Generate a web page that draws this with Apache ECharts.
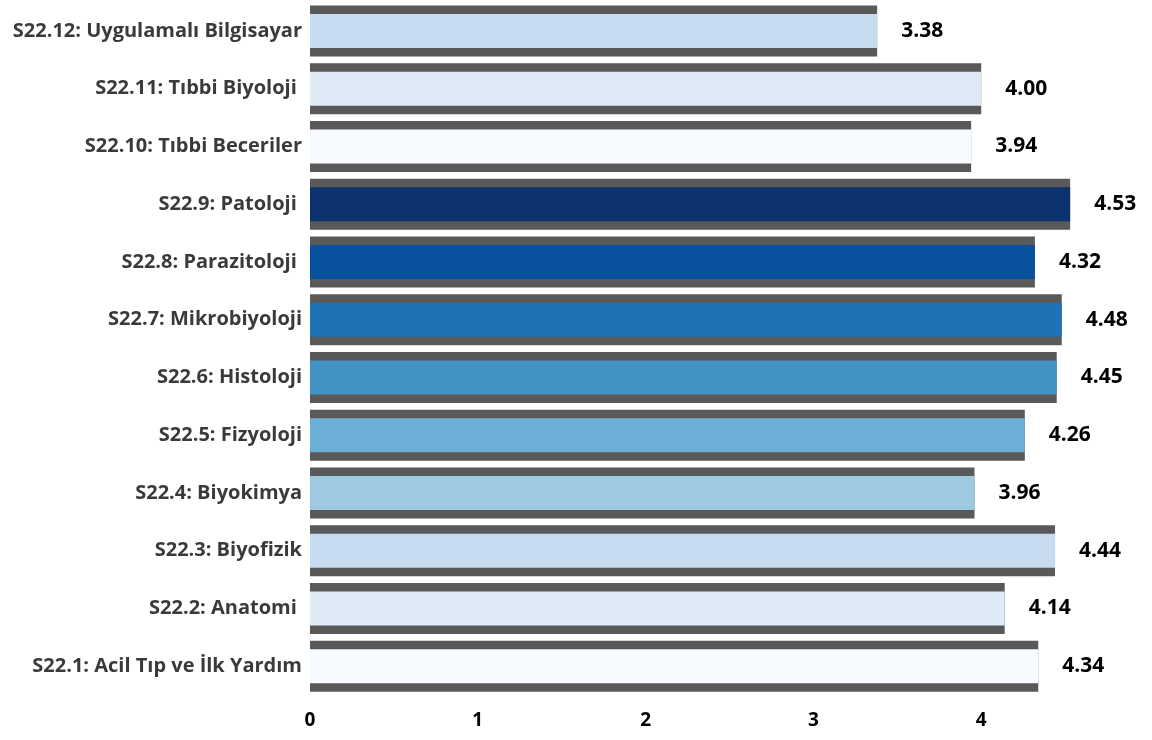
<!DOCTYPE html>
<html><head><meta charset="utf-8">
<script src="https://cdn.jsdelivr.net/npm/echarts@6/dist/echarts.min.js"></script>
<style>html,body{margin:0;padding:0;background:#fff}#c{width:1152px;height:740px}</style>
</head><body><div id="c"></div>
<script>
const categories = ["S22.1: Acil Tıp ve İlk Yardım","S22.2: Anatomi ","S22.3: Biyofizik","S22.4: Biyokimya","S22.5: Fizyoloji","S22.6: Histoloji","S22.7: Mikrobiyoloji","S22.8: Parazitoloji ","S22.9: Patoloji ","S22.10: Tıbbi Beceriler","S22.11: Tıbbi Biyoloji ","S22.12: Uygulamalı Bilgisayar"];
const values = [4.34,4.14,4.44,3.96,4.26,4.45,4.48,4.32,4.53,3.94,4.00,3.38];
const fillColors = ["#f7fbff","#deebf7","#c6dbef","#9ecae1","#6baed6","#4292c6","#2171b5","#08519c","#0c336e","#f7fbff","#deebf7","#c6dbef"];
const xTicks = [0,1,2,3,4];

const chart = echarts.init(document.getElementById('c'));
const font = '"Open Sans", Lato, sans-serif';
chart.setOption({
  animation:false,
  grid:{left:310,right:1,top:2,height:693,containLabel:false},
  xAxis:{type:'value',min:0,max:5,interval:1,
    axisLine:{show:false},axisTick:{show:false},splitLine:{show:false},
    axisLabel:{margin:16,color:'#000',fontWeight:'bold',fontSize:19,fontFamily:font,
      formatter:v=>xTicks.indexOf(v)>=0?String(v):''}},
  yAxis:[
    {type:'category',data:categories,axisLine:{show:false},axisTick:{show:false},
     axisLabel:{margin:8,color:'#3a3a3a',fontWeight:'bold',fontSize:20,fontFamily:font}},
    {type:'category',data:categories,show:false}
  ],
  series:[
    {type:'bar',yAxisIndex:0,data:values,barWidth:51,itemStyle:{color:'#595959'},silent:true},
    {type:'bar',yAxisIndex:1,data:values.map((v,i)=>({value:v,itemStyle:{color:fillColors[i]}})),barWidth:34,
     label:{show:true,position:'right',distance:24,color:'#000',fontWeight:'bold',fontSize:21,fontFamily:font,
       formatter:p=>p.value.toFixed(2)}}
  ]
});
</script></body></html>
